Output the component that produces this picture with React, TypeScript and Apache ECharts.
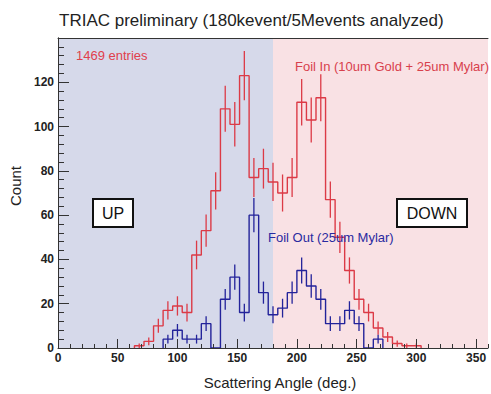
import React, { useEffect, useRef } from "react";
import * as echarts from "echarts";

// Lower edges of the 8-degree angle bins (deg)
const angles = [
  0, 8, 16, 24, 32, 40, 48, 56, 64, 72, 80, 88, 96, 104, 112, 120, 128, 136, 144,
  152, 160, 168, 176, 184, 192, 200, 208, 216, 224, 232, 240, 248, 256, 264, 272,
  280, 288, 296, 304, 312, 320, 328, 336, 344, 352,
];
const BIN = 8;

// Foil In (10um Gold + 25um Mylar) counts per bin
const foilInCounts = [
  0, 0, 0, 0, 0, 0, 0, 0, 1, 3, 10, 17, 19, 16, 42, 53, 71, 108, 101, 123, 77, 81,
  75, 70, 77, 111, 103, 113, 67, 50, 35, 22, 16, 9, 5, 2, 1, 1, 0, 0, 0, 0, 0, 0, 0,
];

// Foil Out (25um Mylar) counts per bin
const foilOutCounts = [
  0, 0, 0, 0, 0, 0, 0, 0, 0, 0, 0, 4, 8, 4, 4, 11, 0, 22, 32, 16, 60, 25, 15, 18,
  25, 35, 28, 22, 11, 11, 17, 11, 0, 4, 0, 0, 0, 0, 0, 0, 0, 0, 0, 0, 0,
];

const xTickLabels = [0, 50, 100, 150, 200, 250, 300, 350];
const yTickLabels = [0, 20, 40, 60, 80, 100, 120];

const FONT = "'Liberation Sans', Arial, sans-serif";
const RED = "#dc3a46";
const BLUE = "#23239a";
const LEFT_BG = "#d6d9ea";
const RIGHT_BG = "#f9e1e4";

function stepPoints(counts: number[]) {
  let first = counts.findIndex((v) => v > 0);
  let last = counts.length - 1;
  while (last > 0 && counts[last] === 0) last--;
  const pts: number[][] = [[angles[first], 0]];
  for (let i = first; i <= last; i++) {
    pts.push([angles[i], counts[i]]);
    pts.push([angles[i] + BIN, counts[i]]);
  }
  pts.push([angles[last] + BIN, 0]);
  return pts;
}

function errPoints(counts: number[]) {
  const out: number[][] = [];
  counts.forEach((v, i) => {
    if (v > 0) out.push([angles[i] + BIN / 2, v, Math.sqrt(v)]);
  });
  return out;
}

function errSeries(counts: number[], color: string) {
  return {
    type: "custom",
    xAxisIndex: 0,
    yAxisIndex: 0,
    z: 3,
    silent: true,
    data: errPoints(counts),
    renderItem: (params: any, api: any) => {
      const x = api.value(0);
      const v = api.value(1);
      const e = api.value(2);
      const top = api.coord([x, v + e]);
      const bot = api.coord([x, Math.max(0, v - e)]);
      return {
        type: "line",
        shape: { x1: top[0], y1: top[1], x2: bot[0], y2: bot[1] },
        style: { stroke: color, lineWidth: 1.3 },
      };
    },
  };
}

function boxLabel(text: string, x: number, y: number, w: number, h: number) {
  return [
    {
      type: "rect",
      z: 20,
      shape: { x, y, width: w, height: h },
      style: { fill: "#ffffff", stroke: "#111", lineWidth: 2 },
    },
    {
      type: "text",
      z: 21,
      x: x + w / 2,
      y: y + h / 2,
      style: {
        text,
        fill: "#111",
        fontFamily: FONT,
        fontSize: 16,
        textAlign: "center",
        align: "center",
        textVerticalAlign: "middle",
        verticalAlign: "middle",
      },
    },
  ];
}

export default function App() {
  const ref = useRef<HTMLDivElement>(null);

  useEffect(() => {
    if (!ref.current) return;
    const chart = echarts.init(ref.current, null, { renderer: "svg" });
    const axisColor = "#333";
    const labelStyle = {
      fontFamily: FONT,
      fontSize: 12,
      fontWeight: "bold" as const,
      color: "#222",
    };
    chart.setOption({
      animation: false,
      backgroundColor: "#ffffff",
      title: {
        text: "TRIAC preliminary (180kevent/5Mevents analyzed)",
        left: 59,
        top: 12,
        padding: 0,
        textStyle: { fontFamily: FONT, fontSize: 17, fontWeight: "normal", color: "#222" },
      },
      grid: {
        left: 58,
        right: 3,
        top: 38,
        bottom: 46,
        containLabel: false,
        outerBoundsMode: "none",
      },
      xAxis: [
        {
          type: "value",
          min: 0,
          max: 360,
          interval: 10,
          position: "bottom",
          z: 5,
          axisLine: { show: true, lineStyle: { color: axisColor, width: 1 } },
          axisTick: { show: true, inside: true, length: 4, lineStyle: { color: axisColor } },
          axisLabel: { show: false },
          splitLine: { show: false },
        },
        {
          type: "value",
          min: 0,
          max: 360,
          interval: 50,
          position: "bottom",
          z: 5,
          name: "Scattering Angle (deg.)",
          nameLocation: "middle",
          nameGap: 27,
          nameTextStyle: { fontFamily: FONT, fontSize: 15, color: "#222", padding: [0, 0, 0, 14] },
          axisLine: { show: false },
          axisTick: { show: true, inside: true, length: 9, lineStyle: { color: axisColor } },
          axisLabel: {
            ...labelStyle,
            margin: 4,
            showMaxLabel: false,
            formatter: (v: number) => (xTickLabels.includes(v) ? String(v) : ""),
          },
          splitLine: { show: false },
        },
        {
          type: "value",
          min: 0,
          max: 360,
          position: "top",
          z: 5,
          axisLine: { show: true, lineStyle: { color: axisColor, width: 1 } },
          axisTick: { show: false },
          axisLabel: { show: false },
          splitLine: { show: false },
        },
      ],
      yAxis: [
        {
          type: "value",
          min: 0,
          max: 140,
          interval: 20,
          position: "left",
          z: 5,
          name: "Count",
          nameLocation: "middle",
          nameGap: 33,
          nameTextStyle: { fontFamily: FONT, fontSize: 15, color: "#222", padding: [0, 0, 0, 14] },
          axisLine: { show: true, lineStyle: { color: axisColor, width: 1 } },
          axisTick: { show: true, inside: true, length: 11, lineStyle: { color: axisColor } },
          minorTick: { show: true, splitNumber: 5, length: 6, lineStyle: { color: axisColor } },
          axisLabel: {
            ...labelStyle,
            margin: 4,
            showMaxLabel: false,
            formatter: (v: number) => (yTickLabels.includes(v) ? String(v) : ""),
          },
          splitLine: { show: false },
          minorSplitLine: { show: false },
        },
        {
          type: "value",
          min: 0,
          max: 140,
          position: "right",
          z: 5,
          axisLine: { show: true, lineStyle: { color: axisColor, width: 1 } },
          axisTick: { show: false },
          axisLabel: { show: false },
          splitLine: { show: false },
        },
      ],
      series: [
        {
          type: "line",
          xAxisIndex: 0,
          yAxisIndex: 0,
          z: 1,
          silent: true,
          data: [],
          markArea: {
            silent: true,
            data: [
              [{ xAxis: 0, itemStyle: { color: LEFT_BG } }, { xAxis: 180 }],
              [{ xAxis: 180, itemStyle: { color: RIGHT_BG } }, { xAxis: 360 }],
            ],
          },
        },
        {
          type: "line",
          name: "Foil In",
          xAxisIndex: 0,
          yAxisIndex: 0,
          z: 3,
          showSymbol: false,
          silent: true,
          data: stepPoints(foilInCounts),
          lineStyle: { color: RED, width: 1.4 },
        },
        errSeries(foilInCounts, RED),
        {
          type: "line",
          name: "Foil Out",
          xAxisIndex: 0,
          yAxisIndex: 0,
          z: 3,
          showSymbol: false,
          silent: true,
          data: stepPoints(foilOutCounts),
          lineStyle: { color: BLUE, width: 1.4 },
        },
        errSeries(foilOutCounts, BLUE),
      ],
      graphic: [
        {
          type: "text",
          x: 76,
          y: 55,
          z: 10,
          style: {
            text: "1469 entries",
            fill: "#e0404c",
            fontFamily: FONT,
            fontSize: 13,
            textVerticalAlign: "middle",
            verticalAlign: "middle",
          },
        },
        {
          type: "text",
          x: 295,
          y: 66,
          z: 10,
          style: {
            text: "Foil In (10um Gold + 25um Mylar)",
            fill: "#d8404c",
            fontFamily: FONT,
            fontSize: 13,
            textVerticalAlign: "middle",
            verticalAlign: "middle",
          },
        },
        {
          type: "text",
          x: 268,
          y: 237,
          z: 10,
          style: {
            text: "Foil Out (25um Mylar)",
            fill: "#2a2aa0",
            fontFamily: FONT,
            fontSize: 13,
            textVerticalAlign: "middle",
            verticalAlign: "middle",
          },
        },
        ...boxLabel("UP", 93, 199, 40, 28),
        ...boxLabel("DOWN", 397, 199, 70, 28),
      ],
    });
    return () => chart.dispose();
  }, []);

  return (
    <div
      ref={ref}
      style={{ position: "fixed", left: 0, top: 0, width: 491, height: 394, background: "#fff" }}
    />
  );
}
